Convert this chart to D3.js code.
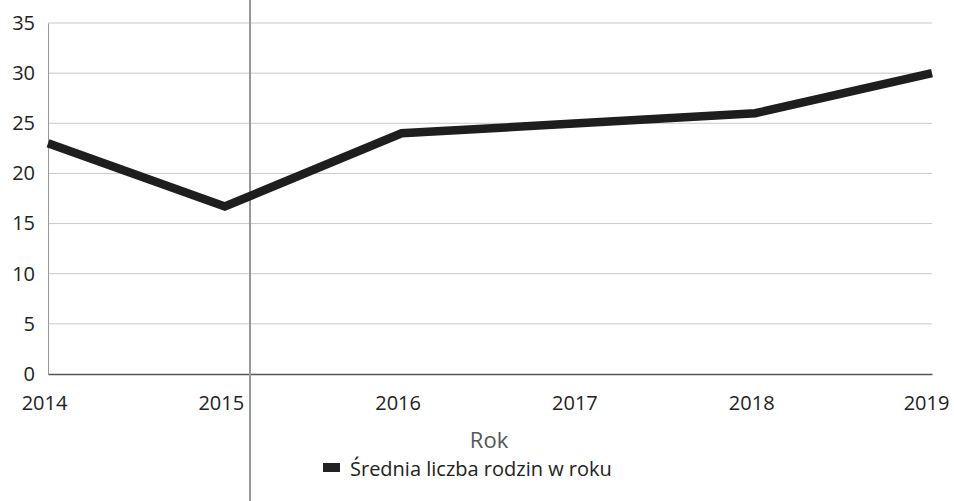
<!DOCTYPE html>
<html><head><meta charset="utf-8">
<script src="https://cdn.jsdelivr.net/npm/d3@7"></script>
<style>body{margin:0;background:#fff;}svg{display:block;font-family:"Open Sans",sans-serif;}</style>
</head><body><svg id="c" width="954" height="501"></svg>
<script>
const years = ["2014","2015","2016","2017","2018","2019"];
const values = [23, 16.7, 24, 25, 26, 30];
const yTicks = [0,5,10,15,20,25,30,35];
const seriesName = "Średnia liczba rodzin w roku";
const xTitle = "Rok";

const svg = d3.select("#c");
const m = {l:48, r:22, t:23, b:127};
const W = 954, H = 501;
const x = d3.scalePoint().domain(years).range([m.l, W - m.r]);
const y = d3.scaleLinear().domain([0,35]).range([H - m.b, m.t]);

// gridlines
svg.append("g").selectAll("line").data(yTicks.filter(d=>d>0)).join("line")
  .attr("x1", m.l).attr("x2", W - m.r)
  .attr("y1", d=>y(d)).attr("y2", d=>y(d))
  .attr("stroke", "#c8c8c8").attr("stroke-width", 1);

// y axis labels
const ya = svg.append("g").attr("transform", `translate(${m.l},0)`)
  .call(d3.axisLeft(y).tickValues(yTicks).tickSize(0).tickPadding(13));
ya.select(".domain").attr("stroke", "#999");
ya.selectAll("text").attr("font-size", 20).attr("fill", "#222").attr("font-family", "'Open Sans',sans-serif");

// x axis
const xa = svg.append("g").attr("transform", `translate(0,${y(0)})`)
  .call(d3.axisBottom(x).tickSize(0).tickPadding(22));
xa.select(".domain").attr("stroke", "#555").attr("stroke-width", 1.5);
xa.selectAll("text").attr("font-size", 20).attr("fill", "#222").attr("font-family", "'Open Sans',sans-serif")
  .attr("dx", (d,i)=> i===years.length-1 ? -6 : -4);

// scan fold line
svg.append("line").attr("x1", 250).attr("x2", 250).attr("y1", 0).attr("y2", H)
  .attr("stroke", "#999").attr("stroke-width", 2);

// data line
svg.append("path").datum(values)
  .attr("d", d3.line().x((d,i)=>x(years[i])).y(d=>y(d)))
  .attr("fill", "none").attr("stroke", "#1e1e1e").attr("stroke-width", 8.5)
  .attr("stroke-linejoin", "miter");

// axis title
svg.append("text").attr("x", 489).attr("y", 448).attr("text-anchor", "middle")
  .attr("font-size", 22).attr("fill", "#555").text(xTitle);

// legend
svg.append("rect").attr("x", 323).attr("y", 463).attr("width", 17).attr("height", 9).attr("fill", "#222");
svg.append("text").attr("x", 350).attr("y", 476).attr("font-size", 20).attr("fill", "#222").text(seriesName);
</script></body></html>
